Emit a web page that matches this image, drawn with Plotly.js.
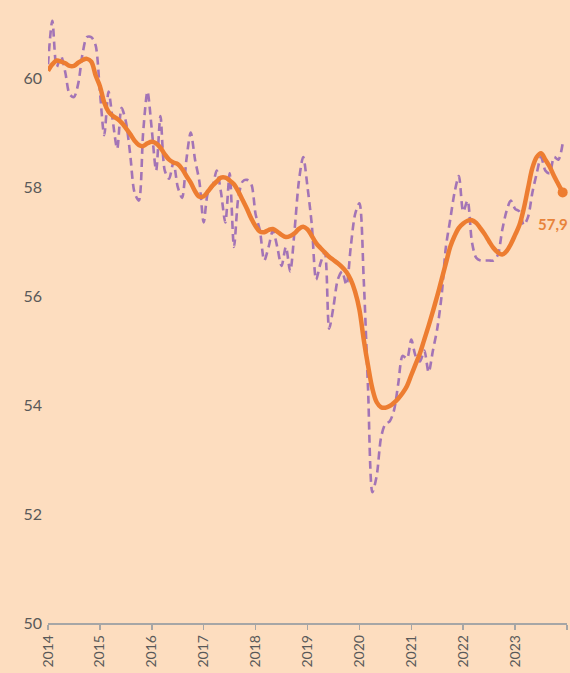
<!DOCTYPE html>
<html>
<head>
<meta charset="utf-8">
<script src="https://cdn.plot.ly/plotly-3.0.1.min.js"></script>
<style>
  html, body { margin: 0; padding: 0; background: #FDDDBF; }
  #chart { width: 570px; height: 673px; }
</style>
</head>
<body>
<div id="chart"></div>
<script>
// Year tick labels (one tick per January, last tick = Jan 2024 without label)
const yearLabels = ['2014','2015','2016','2017','2018','2019','2020','2021','2022','2023',''];

// Monthly values Jan 2014 .. Dec 2023 (dashed series)
const monthly2014 = [60.25, 61.05, 60.2, 60.4, 60.1, 59.7, 59.65, 59.9, 60.45, 60.75, 60.75, 60.6];
const monthly2015 = [59.75, 58.95, 59.75, 59.2, 58.7, 59.45, 59.2, 58.6, 57.9, 57.75, 59.0, 59.75];
const monthly2016 = [59.05, 58.3, 59.3, 58.3, 58.15, 58.45, 58.0, 57.8, 58.5, 59.0, 58.5, 58.1];
const monthly2017 = [57.35, 57.9, 58.0, 58.3, 57.9, 57.35, 58.25, 56.9, 57.8, 58.1, 58.13, 58.05];
const monthly2018 = [57.5, 57.2, 56.65, 56.9, 57.2, 56.9, 56.55, 56.9, 56.45, 57.2, 58.1, 58.55];
const monthly2019 = [58.0, 57.3, 56.3, 56.6, 56.8, 55.4, 55.8, 56.3, 56.45, 56.2, 56.9, 57.5];
const monthly2020 = [57.7, 56.3, 54.3, 52.4, 52.7, 53.4, 53.65, 53.7, 53.9, 54.4, 54.9, 54.85];
const monthly2021 = [55.2, 54.9, 54.8, 55.0, 54.6, 55.0, 55.4, 56.0, 56.9, 57.4, 57.9, 58.2];
const monthly2022 = [57.55, 57.75, 57.0, 56.7, 56.65, 56.65, 56.65, 56.65, 56.75, 57.2, 57.55, 57.75];
const monthly2023 = [57.6, 57.55, 57.3, 57.45, 57.9, 58.25, 58.55, 58.3, 58.25, 58.55, 58.5, 58.8];

// Trend values Jan 2014 .. Dec 2023 (thick orange series)
const trend2014 = [60.13, 60.25, 60.32, 60.3, 60.27, 60.22, 60.22, 60.28, 60.33, 60.35, 60.3, 60.05];
const trend2015 = [59.85, 59.55, 59.38, 59.3, 59.25, 59.18, 59.08, 58.97, 58.85, 58.77, 58.75, 58.8];
const trend2016 = [58.83, 58.8, 58.72, 58.6, 58.5, 58.45, 58.42, 58.33, 58.2, 58.08, 57.92, 57.82];
const trend2017 = [57.83, 57.92, 58.02, 58.1, 58.17, 58.17, 58.12, 58.05, 57.92, 57.76, 57.6, 57.42];
const trend2018 = [57.28, 57.18, 57.17, 57.21, 57.23, 57.18, 57.12, 57.08, 57.1, 57.15, 57.23, 57.27];
const trend2019 = [57.22, 57.1, 56.97, 56.88, 56.8, 56.72, 56.66, 56.6, 56.53, 56.44, 56.3, 56.08];
const trend2020 = [55.75, 55.2, 54.72, 54.3, 54.05, 53.96, 53.95, 53.98, 54.04, 54.12, 54.22, 54.35];
const trend2021 = [54.55, 54.75, 54.95, 55.2, 55.45, 55.72, 56.0, 56.3, 56.6, 56.9, 57.1, 57.25];
const trend2022 = [57.33, 57.38, 57.39, 57.34, 57.24, 57.13, 57.0, 56.88, 56.8, 56.76, 56.82, 56.95];
const trend2023 = [57.12, 57.3, 57.6, 57.98, 58.35, 58.55, 58.62, 58.5, 58.37, 58.2, 58.05, 57.9];

const lastLabel = '57,9';

const monthly = [].concat(monthly2014, monthly2015, monthly2016, monthly2017, monthly2018,
                          monthly2019, monthly2020, monthly2021, monthly2022, monthly2023);
const trend = [].concat(trend2014, trend2015, trend2016, trend2017, trend2018,
                        trend2019, trend2020, trend2021, trend2022, trend2023);
const months = monthly.map((_, i) => i);
const tickVals = yearLabels.map((_, i) => i * 12);
const lastIdx = trend.length - 1;

const traces = [
  {
    x: months, y: monthly, type: 'scatter', mode: 'lines',
    line: { color: 'rgba(140,90,180,0.8)', width: 2.6, dash: '8px,5px', shape: 'spline', smoothing: 0.8 },
    hoverinfo: 'skip'
  },
  {
    x: months, y: trend, type: 'scatter', mode: 'lines',
    line: { color: '#ED7D31', width: 4.5, shape: 'spline', smoothing: 1 },
    hoverinfo: 'skip'
  },
  {
    x: [months[lastIdx]], y: [trend[lastIdx]], type: 'scatter', mode: 'markers',
    marker: { color: '#ED7D31', size: 10 },
    cliponaxis: false,
    hoverinfo: 'skip'
  }
];

const layout = {
  width: 570, height: 673,
  margin: { l: 48, r: 3, t: 0, b: 50, pad: 0 },
  paper_bgcolor: '#FDDDBF',
  plot_bgcolor: '#FDDDBF',
  showlegend: false,
  font: { family: 'Lato, "Open Sans", sans-serif', color: '#595959' },
  xaxis: {
    range: [0, 120],
    tickmode: 'array', tickvals: tickVals, ticktext: yearLabels,
    tickangle: -90,
    ticks: 'outside', ticklen: 5, tickcolor: '#A6A6A6', tickwidth: 1.5,
    showline: true, linecolor: '#A6A6A6', linewidth: 1.5,
    showgrid: false, zeroline: false,
    tickfont: { size: 14, color: '#595959' }
  },
  yaxis: {
    range: [50, 61.43],
    tickvals: [50, 52, 54, 56, 58, 60],
    ticks: '', showline: false, showgrid: false, zeroline: false,
    ticklabelstandoff: 5,
    tickfont: { size: 16, color: '#595959' }
  },
  annotations: [
    {
      x: months[lastIdx], y: trend[lastIdx], xref: 'x', yref: 'y',
      text: '<b>' + lastLabel + '</b>', showarrow: false,
      xanchor: 'left', yanchor: 'middle', xshift: -27, yshift: -32,
      font: { size: 15, color: '#E8833A', family: 'Lato, "Open Sans", sans-serif' }
    }
  ]
};

Plotly.newPlot('chart', traces, layout, { staticPlot: true, displayModeBar: false });
</script>
</body>
</html>
